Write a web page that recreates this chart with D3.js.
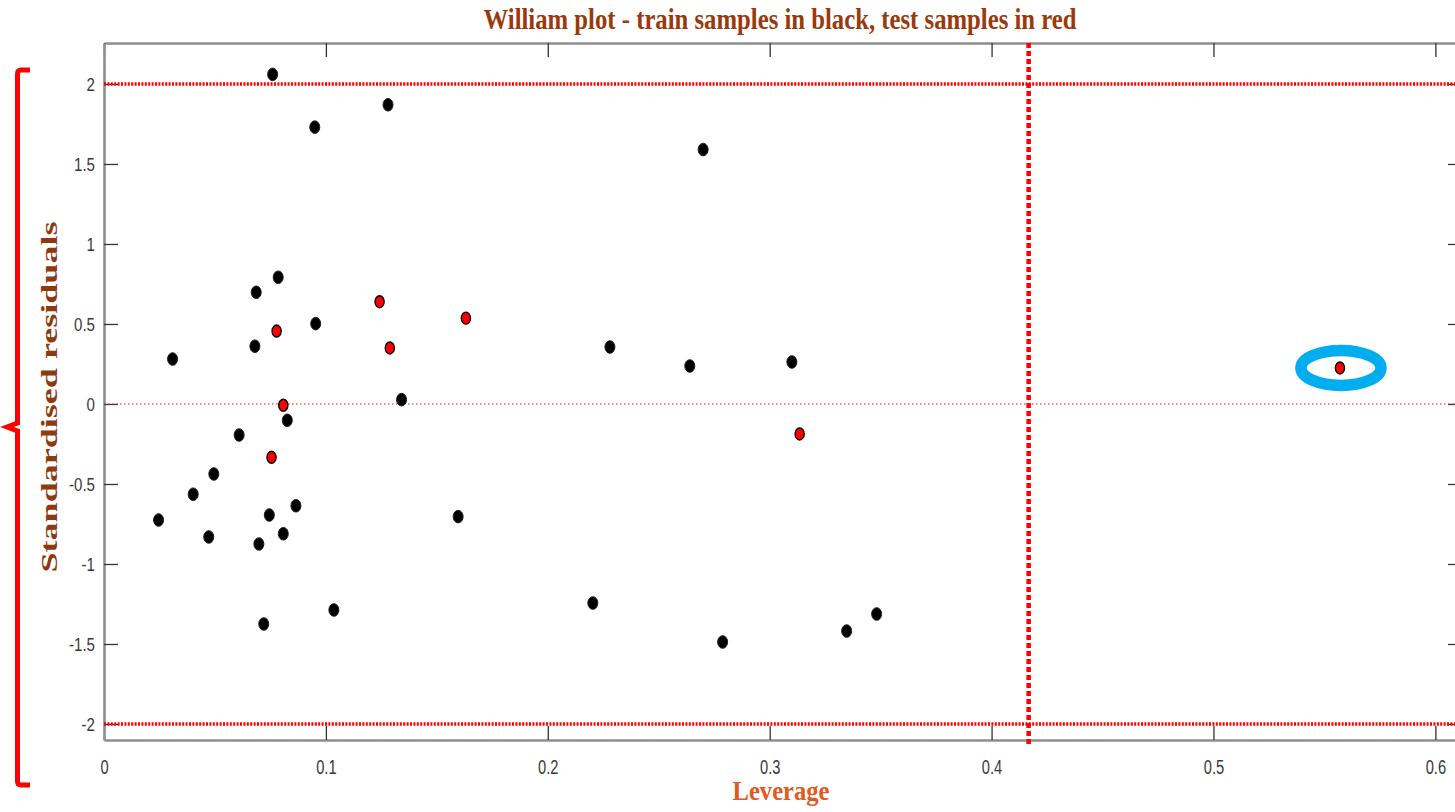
<!DOCTYPE html>
<html>
<head>
<meta charset="utf-8">
<script src="https://cdn.jsdelivr.net/npm/d3@7"></script>
<style>
body { margin: 0; background: white; }
</style>
</head>
<body>
<div id="graph"></div>
<script>
const width = 1455
const height = 812

// train samples (black)
var trainLeverage = [0.076, 0.128, 0.095, 0.270, 0.0785, 0.0686, 0.0954, 0.068, 0.0309, 0.228, 0.264, 0.310, 0.1341, 0.0826, 0.0609, 0.0495, 0.0402, 0.0865, 0.0745, 0.0246, 0.1596, 0.0472, 0.0808, 0.0698, 0.1036, 0.072, 0.2203, 0.2788, 0.3347, 0.3482];
var trainResidual = [2.06, 1.87, 1.73, 1.59, 0.792, 0.698, 0.502, 0.361, 0.281, 0.356, 0.2375, 0.2625, 0.027, -0.102, -0.194, -0.4375, -0.564, -0.636, -0.694, -0.725, -0.704, -0.831, -0.811, -0.875, -1.2875, -1.375, -1.244, -1.4875, -1.419, -1.3125];
// test samples (red)
var testLeverage = [0.1242, 0.0778, 0.1288, 0.1631, 0.0808, 0.0755, 0.3135, 0.557];
var testResidual = [0.639, 0.456, 0.35, 0.536, -0.008, -0.333, -0.1875, 0.225];

var xTicks = [0, 0.1, 0.2, 0.3, 0.4, 0.5, 0.6];
var yTicks = [-2, -1.5, -1, -0.5, 0, 0.5, 1, 1.5, 2];
var hStar = 0.4167;
var residLimits = [-2, 2];
var outlier = 7;

var x = d3.scaleLinear().domain([0, 0.612]).range([104, 1462]);
var y = d3.scaleLinear().domain([-2.1, 2.256]).range([740, 43]);

var svg = d3.select("div#graph")
	.append("svg")
	.attr("width", width)
	.attr("height", height)

// axes, MATLAB style ticks pointing inward
var gx = svg.append("g")
	.attr("transform", "translate(0 740)")
	.call(d3.axisBottom(x).tickValues(xTicks).tickSizeInner(-14).tickSizeOuter(0).tickPadding(19).tickFormat(d=>String(d)))
var gxTop = svg.append("g")
	.attr("transform", "translate(0 43)")
	.call(d3.axisTop(x).tickValues(xTicks).tickSizeInner(-14).tickSizeOuter(0).tickFormat(""))
var gy = svg.append("g")
	.attr("transform", "translate(104 0)")
	.call(d3.axisLeft(y).tickValues(yTicks).tickSizeInner(-14).tickSizeOuter(0).tickPadding(9).tickFormat(d=>String(d)))
var gyRight = svg.append("g")
	.attr("transform", "translate(1462 0)")
	.call(d3.axisRight(y).tickValues(yTicks).tickSizeInner(-14).tickSizeOuter(0).tickFormat(""))

svg.selectAll(".domain")
	.style("stroke", "#8e8e8e")
	.style("stroke-width", "2.6px")
svg.selectAll(".tick line")
	.style("stroke", "#333")
	.style("stroke-width", "1.3px")

gx.selectAll("text")
	.style("font-family", "'Liberation Sans', Arial, sans-serif")
	.style("font-size", "21px")
	.style("fill", "#3a3a3a")
	.attr("transform", "scale(0.7 1)")
gy.selectAll("text")
	.style("font-family", "'Liberation Sans', Arial, sans-serif")
	.style("font-size", "18px")
	.style("fill", "#3a3a3a")
	.attr("x", -9/0.84)
	.attr("dy", "0.34em")
	.attr("transform", "scale(0.84 1)")

// reference lines
svg.append("line")
	.attr("x1", x(0)).attr("x2", 1462)
	.attr("y1", y(0)).attr("y2", y(0))
	.style("stroke", "#ff2020")
	.style("stroke-opacity", 0.75)
	.style("stroke-width", "1.5px")
	.style("stroke-dasharray", "1.5,2.5")
svg.selectAll("line.limit").data(residLimits).enter().append("line")
	.attr("class", "limit")
	.attr("x1", x(0)).attr("x2", 1462)
	.attr("y1", d=>y(d)).attr("y2", d=>y(d))
	.style("stroke", "#ff0000")
	.style("stroke-width", "3.5px")
	.style("stroke-dasharray", "2,1.4")
svg.append("line")
	.attr("x1", x(hStar)).attr("x2", x(hStar))
	.attr("y1", 43).attr("y2", 744)
	.style("stroke", "#ff0000")
	.style("stroke-width", "4.5px")
	.style("stroke-dasharray", "5,3")

// points
svg.selectAll("ellipse.train").data(trainLeverage).enter().append("ellipse")
	.attr("class", "train")
	.attr("cx", d=>x(d))
	.attr("cy", (d,i)=>y(trainResidual[i]))
	.attr("rx", 5)
	.attr("ry", 6.3)
	.style("fill", "#000")
	.style("stroke", "#222")
	.style("stroke-width", "1px")
svg.selectAll("ellipse.test").data(testLeverage).enter().append("ellipse")
	.attr("class", "test")
	.attr("cx", d=>x(d))
	.attr("cy", (d,i)=>y(testResidual[i]))
	.attr("rx", 4.6)
	.attr("ry", 6)
	.style("fill", "#ff0000")
	.style("stroke", "#000")
	.style("stroke-width", "1.3px")

// blue ring around the outlier
svg.append("ellipse")
	.attr("cx", x(testLeverage[outlier]) + 1)
	.attr("cy", y(testResidual[outlier]))
	.attr("rx", 40)
	.attr("ry", 17.5)
	.style("fill", "none")
	.style("stroke", "#00aeef")
	.style("stroke-width", "11.5px")

// red bracket on the left
svg.append("path")
	.attr("d", "M30,70 L21,70 Q17.5,70 17.5,74 L17.5,423 L7,427 L17.5,431 L17.5,781 Q17.5,785 21,785 L30,785")
	.style("fill", "none")
	.style("stroke", "#ff0000")
	.style("stroke-width", "5px")

// titles
svg.append("text")
	.attr("x", 780)
	.attr("y", 29)
	.attr("text-anchor", "middle")
	.attr("textLength", 593)
	.attr("lengthAdjust", "spacingAndGlyphs")
	.style("font-family", "'Liberation Serif', 'Times New Roman', serif")
	.style("font-weight", "bold")
	.style("font-size", "29px")
	.style("fill", "#9a3a0c")
	.text("William plot - train samples in black, test samples in red")
svg.append("text")
	.attr("x", 781)
	.attr("y", 800)
	.attr("text-anchor", "middle")
	.attr("textLength", 97)
	.attr("lengthAdjust", "spacingAndGlyphs")
	.style("font-family", "'Liberation Serif', 'Times New Roman', serif")
	.style("font-weight", "bold")
	.style("font-size", "27px")
	.style("fill", "#e05a22")
	.text("Leverage")
svg.append("text")
	.attr("transform", "translate(57 397) rotate(-90)")
	.attr("text-anchor", "middle")
	.attr("textLength", 351)
	.attr("lengthAdjust", "spacingAndGlyphs")
	.style("font-family", "'Liberation Serif', 'Times New Roman', serif")
	.style("font-weight", "bold")
	.style("font-size", "23px")
	.style("fill", "#8e3a10")
	.text("Standardised residuals")
</script>
</body>
</html>
